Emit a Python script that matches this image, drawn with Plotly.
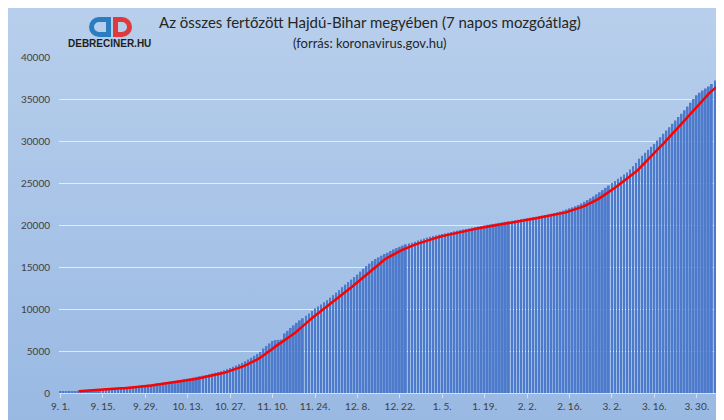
import base64
import pandas as pd
import plotly.graph_objects as go

# ---- data (cumulative infected, Hajdú-Bihar, daily from 2020-09-01) ----
start_date = "2020-09-01"
cumulative = [
    150, 165, 180, 200, 215, 240, 260, 280, 300, 330, 350, 380, 410, 440, 470,
    500, 520, 550, 580, 610, 640, 660, 690, 730, 770, 810, 850, 900, 950,
    990, 1040, 1090, 1140, 1180, 1230, 1280, 1330, 1380, 1440, 1500, 1560, 1630, 1700,
    1770, 1840, 1920, 1990, 2070, 2150, 2240, 2320, 2410, 2500, 2600, 2720, 2850, 2980,
    3120, 3270, 3430, 3600, 3780, 3990, 4200, 4420, 4650, 4900, 5300, 5600, 5900, 6200,
    6300, 6330, 6360, 7100, 7400, 7750, 8050, 8350, 8650, 8900, 9200, 9450, 9750, 10050,
    10300, 10550, 10800, 11050, 11350, 11650, 11950, 12250, 12600, 12900, 13200, 13500, 13800, 14100,
    14450, 14800, 15100, 15400, 15700, 15950, 16150, 16350, 16550, 16700, 16900, 17100, 17250, 17400,
    17550, 17700, 17800, 17900, 18000, 18150, 18280, 18400, 18500, 18600, 18680, 18760, 18850, 18930,
    19000, 19080, 19170, 19250, 19320, 19400, 19470, 19530, 19600, 19680, 19750, 19810, 19880, 19950,
    20010, 20070, 20130, 20190, 20260, 20320, 20380, 20440, 20500, 20560, 20620, 20680, 20740, 20800,
    20860, 20920, 20990, 21060, 21130, 21200, 21270, 21350, 21430, 21520, 21610, 21720, 21850, 21980,
    22100, 22240, 22380, 22560, 22760, 22980, 23180, 23400, 23650, 23900, 24150, 24420, 24700, 25000,
    25250, 25500, 25750, 26000, 26250, 26600, 27000, 27400, 27900, 28250, 28600, 28950, 29300, 29650,
    30050, 30450, 30850, 31250, 31650, 32050, 32450, 32850, 33250, 33650, 34100, 34550, 35000, 35450,
    35750, 36000, 36250, 36500, 36800, 37200, 37650,
]
tick_labels = ["9. 1.", "9. 15.", "9. 29.", "10. 13.", "10. 27.", "11. 10.", "11. 24.",
               "12. 8.", "12. 22.", "1. 5.", "1. 19.", "2. 2.", "2. 16.", "3. 2.",
               "3. 16.", "3. 30."]
y_ticks = [0, 5000, 10000, 15000, 20000, 25000, 30000, 35000, 40000]

dates = pd.date_range(start_date, periods=len(cumulative), freq="D")
tick_dates = list(dates[::14][:len(tick_labels)])
moving_avg = pd.Series(cumulative).rolling(7).mean()

# ---- geometry (page body has an 8px margin, so the figure starts at screen 8,8) ----
OFF = 8
W, H = 724 - OFF, 420 - OFF
L, R, T, B = 59 - OFF, 0, 57 - OFF, 27
PW, PH = W - L - R, H - T - B


def px(x):  # screen x -> paper
    return (x - OFF - L) / PW


def py(y):  # screen y -> paper
    return (H - B - (y - OFF)) / PH


def svg_uri(svg):
    return "data:image/svg+xml;base64," + base64.b64encode(svg.encode("utf-8")).decode()


bg_svg = f"""<svg xmlns='http://www.w3.org/2000/svg' width='{W}' height='{H}' viewBox='0 0 {W} {H}'>
<defs><linearGradient id='g' x1='0' y1='0' x2='0' y2='1'>
<stop offset='0' stop-color='#b8cfec'/><stop offset='1' stop-color='#99b9e3'/></linearGradient></defs>
<rect x='0' y='0' width='{W}' height='{H}' fill='url(#g)'/>
</svg>"""

logo_svg = """<svg xmlns='http://www.w3.org/2000/svg' width='44' height='20' viewBox='0 0 44 20'>
<path fill-rule='evenodd' fill='#2a7dc0' d='M10,0 H22 V20 H10 A10,10 0 0 1 10,0 Z M10,5 H17 V15 H10 A5,5 0 0 1 10,5 Z'/>
<path fill-rule='evenodd' fill='#dd3b3b' d='M24,0 H33 A10,10 0 0 1 33,20 H24 Z M29,5 H33 A5,5 0 0 1 33,15 H29 Z'/>
</svg>"""

fig = go.Figure()
fig.add_trace(go.Bar(x=dates, y=cumulative, marker=dict(color="#4d7acb", line=dict(width=0)),
                     showlegend=False, hoverinfo="x+y"))
fig.add_trace(go.Scatter(x=dates, y=moving_avg, mode="lines",
                         line=dict(color="#ff0000", width=2.5), showlegend=False))

fig.update_layout(
    width=W, height=H,
    margin=dict(l=L, r=R, t=T, b=B, pad=0),
    paper_bgcolor="#b8cfec",
    plot_bgcolor="rgba(0,0,0,0)",
    bargap=0.4,
    font=dict(family="Lato, Open Sans, sans-serif", color="#404040"),
    images=[
        dict(source=svg_uri(bg_svg), xref="paper", yref="paper", x=px(OFF), y=py(OFF),
             sizex=W / PW, sizey=H / PH, xanchor="left", yanchor="top",
             sizing="stretch", layer="below"),
        dict(source=svg_uri(logo_svg), xref="paper", yref="paper", x=px(89), y=py(17),
             sizex=44 / PW, sizey=20 / PH, xanchor="left", yanchor="top",
             sizing="stretch", layer="above"),
    ],
    annotations=[
        dict(text="Az összes fertőzött Hajdú-Bihar megyében (7 napos mozgóátlag)",
             xref="paper", yref="paper", x=px(370), y=py(22), showarrow=False,
             xanchor="center", yanchor="middle",
             font=dict(size=15, color="#262626", family="Lato, sans-serif")),
        dict(text="(forrás: koronavirus.gov.hu)",
             xref="paper", yref="paper", x=px(370), y=py(43), showarrow=False,
             xanchor="center", yanchor="middle",
             font=dict(size=13, color="#262626", family="Lato, sans-serif")),
        dict(text="<b>DEBRECINER.HU</b>",
             xref="paper", yref="paper", x=px(109), y=py(44), showarrow=False,
             xanchor="center", yanchor="middle",
             font=dict(size=10, color="#1e1e1e", family="Liberation Sans, Arial, sans-serif")),
    ],
)

fig.update_xaxes(
    type="date",
    range=["2020-08-31 12:00", "2021-04-08 00:00"],
    tickvals=tick_dates, ticktext=tick_labels,
    showgrid=False, showline=True, linecolor="#d6e0ef", linewidth=1,
    ticks="outside", ticklen=4, tickcolor="#d6e0ef",
    tickfont=dict(size=10, color="#404040"),
    zeroline=False,
)
fig.update_yaxes(
    range=[0, 40000], tickvals=y_ticks, ticktext=[str(v) for v in y_ticks],
    showgrid=True, gridcolor="rgba(235,241,250,0.85)", gridwidth=1,
    zeroline=False, showline=False, ticks="",
    tickfont=dict(size=10, color="#404040"),
    ticklabelstandoff=8,
)

fig.write_html("out.html")
